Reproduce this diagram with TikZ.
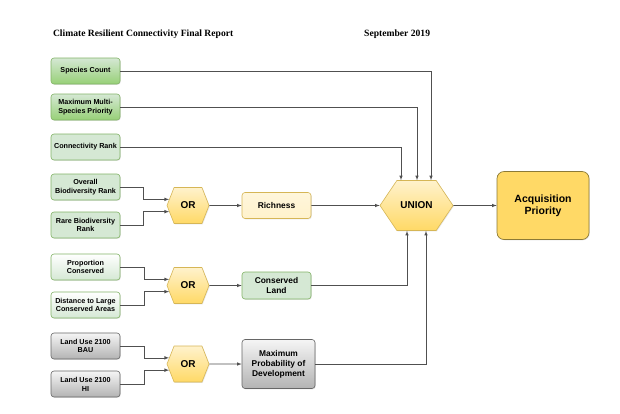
\documentclass[tikz,border=0pt]{standalone}
\usepackage{fontspec}
\setmainfont{Liberation Serif}
\newfontfamily\boxfont{Liberation Sans}
\usepackage{tikz}
\usetikzlibrary{arrows,shapes.symbols,shadows}

\definecolor{greenfill}{HTML}{D5E8D4}
\definecolor{greendark}{HTML}{97D077}
\definecolor{greenline}{HTML}{82B366}
\definecolor{grayfill}{HTML}{F5F5F5}
\definecolor{graydark}{HTML}{B3B3B3}
\definecolor{grayline}{HTML}{666666}
\definecolor{yellowfill}{HTML}{FFF2CC}
\definecolor{yellowdark}{HTML}{FFD966}
\definecolor{yellowline}{HTML}{D6B656}
\definecolor{goalline}{HTML}{8C7A36}
\definecolor{wireline}{HTML}{505050}

\tikzset{
  box/.style={rectangle, rounded corners=3pt, draw, line width=0.6pt, align=center,
    inner sep=1pt, minimum width=69pt, minimum height=26pt,
    font=\boxfont\bfseries\fontsize{7.2}{8.8}\selectfont,
    drop shadow={opacity=0.2, shadow xshift=0.8pt, shadow yshift=-0.8pt}},
  greenbox/.style={box, draw=greenline, top color=greenfill, bottom color=greendark},
  lightbox/.style={box, draw=greenline, fill=greenfill},
  palebox/.style={box, draw=greenline, top color=white, bottom color=greenfill},
  graybox/.style={box, draw=grayline, top color=grayfill, bottom color=graydark},
  creambox/.style={box, draw=yellowline, top color=yellowfill!70, bottom color=yellowfill},
  midfont/.style={font=\boxfont\bfseries\fontsize{8.4}{10}\selectfont},
  hexbox/.style={signal, signal to=east and west, draw=yellowline, line width=0.6pt,
    top color=yellowfill, bottom color=yellowdark, inner sep=0pt,
    font=\boxfont\bfseries\fontsize{10}{12}\selectfont,
    drop shadow={opacity=0.2, shadow xshift=0.8pt, shadow yshift=-0.8pt}},
  orhex/.style={hexbox, minimum width=42pt, minimum height=36pt, signal pointer angle=137},
  unionhex/.style={hexbox, minimum width=73pt, minimum height=50pt, signal pointer angle=112},
  goalbox/.style={rectangle, rounded corners=7pt, draw=goalline, line width=0.7pt,
    fill=yellowdark, align=center, minimum width=92pt, minimum height=68pt,
    font=\boxfont\bfseries\fontsize{10.5}{12}\selectfont,
    drop shadow={opacity=0.2, shadow xshift=0.8pt, shadow yshift=-0.8pt}},
  wire/.style={draw=wireline, line width=0.6pt, -latex},
  heading/.style={anchor=base west, font=\bfseries\fontsize{9.6}{11}\selectfont}
}

\begin{document}
\begin{tikzpicture}[x=1pt, y=-1pt]
  \useasboundingbox (0,0) rectangle (620,413);

  % page header
  \node[heading] (title) at (49.5,36.5) {Climate Resilient Connectivity Final Report};
  \node[heading] (date) at (360.7,36.5) {September 2019};

  % input layers
  \node[greenbox] (count) at (85.5,71) {Species Count};
  \node[greenbox] (multi) at (85.5,107) {Maximum Multi-\\Species Priority};
  \node[lightbox] (conn) at (85.5,147) {Connectivity Rank};
  \node[lightbox] (overall) at (85.5,187) {Overall\\Biodiversity Rank};
  \node[lightbox] (rare) at (85.5,225) {Rare Biodiversity\\Rank};
  \node[palebox] (prop) at (85.5,267) {Proportion\\Conserved};
  \node[palebox] (dist) at (85.5,305) {Distance to Large\\Conserved Areas};
  \node[graybox] (bau) at (85.5,346) {Land Use 2100\\BAU};
  \node[graybox] (hi) at (85.5,384) {Land Use 2100\\HI};

  % combining steps
  \node[orhex] (orrich) at (188,205.5) {OR};
  \node[orhex] (orcons) at (188,285.5) {OR};
  \node[orhex] (ordev) at (188,364) {OR};

  \node[creambox, midfont] (rich) at (276.5,205.5) {Richness};
  \node[lightbox, midfont, minimum height=27pt] (cons) at (276.5,285.5) {Conserved\\Land};
  \node[graybox, midfont, minimum width=73pt, minimum height=49pt] (dev) at (278.5,364)
    {Maximum\\Probability of\\Development};

  \node[unionhex] (union) at (416.5,205.5) {UNION};
  \node[goalbox] (acq) at (543,205.5) {Acquisition\\Priority};

  % connectors
  \draw[wire] (count.east) -| ([xshift=14.5pt]union.north);
  \draw[wire] (multi.east) -| ([xshift=0.5pt]union.north);
  \draw[wire] (conn.east) -| ([xshift=-15.5pt]union.north);

  \draw[wire] (overall.east) -- ++(23,0) |- (orrich.162);
  \draw[wire] (rare.east) -- ++(23,0) |- (orrich.198);
  \draw[wire] (prop.east) -- ++(23.5,0) |- (orcons.162);
  \draw[wire] (dist.east) -- ++(23.5,0) |- (orcons.198);
  \draw[wire] (bau.east) -- ++(23.5,0) |- (ordev.162);
  \draw[wire] (hi.east) -- ++(23.5,0) |- (ordev.198);

  \draw[wire] (orrich) -- (rich);
  \draw[wire] (orcons) -- (cons);
  \draw[wire] (ordev) -- (dev);

  \draw[wire] (rich) -- (union);
  \draw[wire] (cons.east) -| ([xshift=-9.5pt]union.south);
  \draw[wire] (dev.east) -| ([xshift=9.5pt]union.south);
  \draw[wire] (union) -- (acq);
\end{tikzpicture}
\end{document}
